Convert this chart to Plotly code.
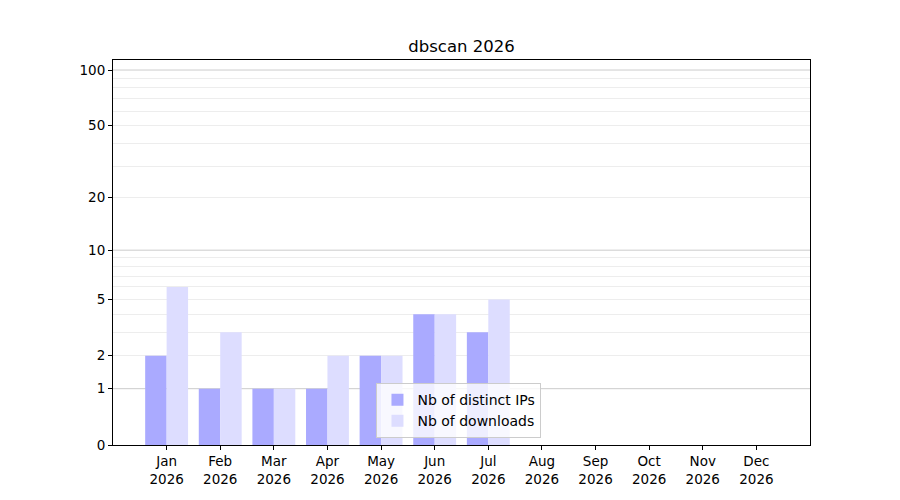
import numpy as np
import plotly.graph_objects as go

months = ["Jan", "Feb", "Mar", "Apr", "May", "Jun", "Jul", "Aug", "Sep", "Oct", "Nov", "Dec"]
year = "2026"
distinct_ips = [2, 1, 1, 1, 2, 4, 3, 0, 0, 0, 0, 0]
downloads = [6, 3, 1, 2, 2, 4, 5, 0, 0, 0, 0, 0]
y_ticks = [0, 1, 2, 5, 10, 20, 50, 100]
y_major_grid = [1, 10, 100]
y_minor_grid = [2, 3, 4, 5, 6, 7, 8, 9, 20, 30, 40, 50, 60, 70, 80, 90]


# the y axis is log10(1 + y), like matplotlib's "function" scale
def tr(v):
    return np.log10(1 + np.asarray(v, dtype=float))


x = list(range(len(months)))
ticktext = [m + "<br>" + year for m in months]
y_range = [0, 2.058]

fig = go.Figure()
fig.add_trace(go.Bar(x=x, y=tr(distinct_ips), name="Nb of distinct IPs",
                     marker=dict(color="#aaaaff", line=dict(width=0))))
fig.add_trace(go.Bar(x=x, y=tr(downloads), name="Nb of downloads",
                     marker=dict(color="#ddddff", line=dict(width=0))))

# darker grid lines at 1, 10, 100 (under the bars)
for g in tr(y_major_grid):
    fig.add_shape(type="line", xref="paper", x0=0, x1=1, yref="y", y0=g, y1=g,
                  line=dict(color="#cccccc", width=1), layer="below")

# page body has an 8px margin, so margins are shifted to compensate
fig.update_layout(
    width=900, height=500,
    margin=dict(l=105, r=98, t=52, b=63),
    paper_bgcolor="white", plot_bgcolor="white",
    font=dict(family="DejaVu Sans", size=13.5, color="black"),
    title=dict(text="dbscan 2026", x=0.5, xref="paper", y=1 - 38 / 500,
               yref="container", yanchor="middle", font=dict(size=16.5)),
    barmode="group", bargap=0.2, bargroupgap=0,
    showlegend=True,
    legend=dict(x=0.378, y=0.018, xanchor="left", yanchor="bottom",
                bgcolor="rgba(255,255,255,0.8)", bordercolor="#cccccc",
                borderwidth=1, font=dict(size=14), tracegroupgap=0),
    xaxis=dict(
        range=[-1, 12], tickmode="array", tickvals=x, ticktext=ticktext,
        showgrid=False, zeroline=False,
        showline=True, linecolor="black", linewidth=1, mirror=True,
        ticks="outside", ticklen=4, tickcolor="black",
    ),
    yaxis=dict(
        range=y_range, tickmode="array", tickvals=tr(y_ticks),
        ticktext=[str(t) for t in y_ticks],
        showgrid=False, zeroline=False,
        showline=True, linecolor="black", linewidth=1, mirror=True,
        ticks="outside", ticklen=4, tickcolor="black",
        minor=dict(tickmode="array", tickvals=tr(y_minor_grid), showgrid=True,
                   gridcolor="#ededed", gridwidth=1, ticks=""),
    ),
)

fig.write_html("out.html")
